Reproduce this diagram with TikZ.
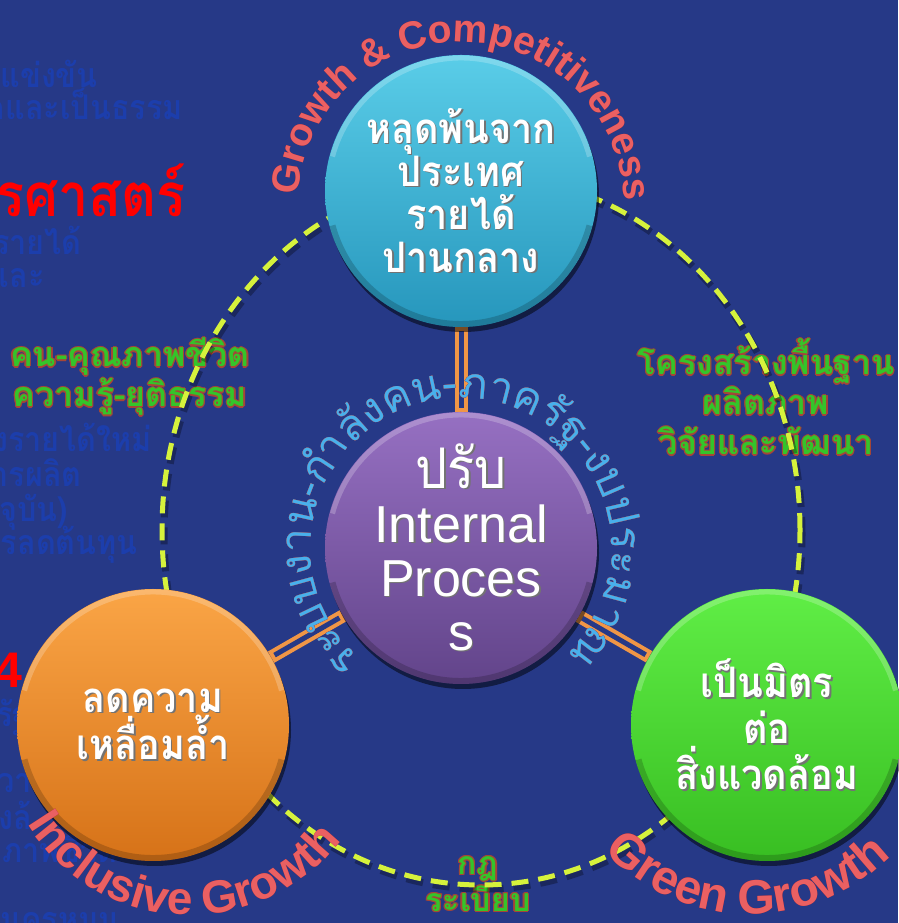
\documentclass[tikz,border=0pt]{standalone}
\usepackage{fontspec}
\usetikzlibrary{shadows,decorations.text,calc}
\newfontfamily\thaifont[Script=Thai]{Loma}
\newfontfamily\thainarrow[Script=Thai,FakeStretch=0.9]{Loma}
\newfontfamily\latinfont{Liberation Sans}
\definecolor{bgblue}{RGB}{38,57,135}
\definecolor{dimblue}{RGB}{28,62,172}
\definecolor{hotred}{RGB}{255,0,0}
\definecolor{dashcol}{RGB}{214,242,60}
\definecolor{connorange}{RGB}{240,150,70}
\definecolor{lblgreen}{RGB}{52,196,42}
\definecolor{lbledge}{RGB}{165,70,55}
\definecolor{curvered}{RGB}{234,96,98}
\definecolor{curvedark}{RGB}{160,28,40}
\definecolor{thaiblue}{RGB}{72,176,236}
\definecolor{thaiedge}{RGB}{150,70,90}
\definecolor{cyanT}{RGB}{90,205,232}
\definecolor{cyanM}{RGB}{54,180,214}
\definecolor{cyanB}{RGB}{38,150,188}
\definecolor{purT}{RGB}{150,112,194}
\definecolor{purM}{RGB}{126,88,170}
\definecolor{purB}{RGB}{98,68,138}
\definecolor{oraT}{RGB}{250,165,70}
\definecolor{oraM}{RGB}{239,138,38}
\definecolor{oraB}{RGB}{214,114,24}
\definecolor{grnT}{RGB}{96,238,70}
\definecolor{grnM}{RGB}{72,216,48}
\definecolor{grnB}{RGB}{56,190,34}
\pgfdeclarelayer{back}
\pgfdeclarelayer{mid}
\pgfsetlayers{back,mid,main}
\newcommand\shad[1]{\leavevmode\setbox0=\hbox{#1}\rlap{\color{black!55}\kern1.6pt\lower1.6pt\copy0}\box0}
\newcommand\outl[1]{\leavevmode\setbox0=\hbox{#1}%
\rlap{\color{lbledge}\kern-1.2pt\copy0}%
\rlap{\color{lbledge}\kern1.2pt\copy0}%
\rlap{\color{lbledge}\raise1.2pt\copy0}%
\rlap{\color{lbledge}\lower1.2pt\copy0}%
\rlap{\color{lbledge}\kern-.85pt\raise.85pt\copy0}%
\rlap{\color{lbledge}\kern.85pt\raise.85pt\copy0}%
\rlap{\color{lbledge}\kern-.85pt\lower.85pt\copy0}%
\rlap{\color{lbledge}\kern.85pt\lower.85pt\copy0}%
\box0}
\newcommand\arctext[6]{%
\path[shift={#5},decorate,decoration={text along path,text align=center,text={#6}}]
 ($(#1)+(#3:#2)$) arc[start angle=#3,end angle=#4,radius=#2];}
\newcommand\redA{\latinfont\bfseries\fontsize{39}{39}\selectfont}
\newcommand\redB{\latinfont\bfseries\fontsize{46}{46}\selectfont}
\newcommand\redC{\latinfont\bfseries\fontsize{48}{48}\selectfont}
\newcommand\thaiC{\thaifont\fontsize{43}{43}\selectfont}
\begin{document}
\begin{tikzpicture}[x=1pt,y=1pt,
  ball/.style={circle,minimum size=272pt,inner sep=0pt,align=center,text=white,
    font=\thainarrow\bfseries\fontsize{42}{43}\selectfont,
    drop shadow={shadow xshift=2pt,shadow yshift=-5pt,opacity=.5,fill=black},
    path picture={
      \draw[white,opacity=.22,line width=5pt] ($(path picture bounding box.center)+(15:133)$) arc[start angle=15,end angle=165,radius=133];
      \draw[black,opacity=.18,line width=6pt] ($(path picture bounding box.center)+(195:133)$) arc[start angle=195,end angle=345,radius=133];}},
  cyanball/.style={ball,top color=cyanT,middle color=cyanM,bottom color=cyanB},
  purball/.style={ball,top color=purT,middle color=purM,bottom color=purB,
    font=\latinfont\fontsize{52}{54}\selectfont},
  oraball/.style={ball,top color=oraT,middle color=oraM,bottom color=oraB},
  grnball/.style={ball,top color=grnT,middle color=grnM,bottom color=grnB,
    font=\thainarrow\bfseries\fontsize{42}{46}\selectfont},
  dimtext/.style={font=\thainarrow\bfseries\fontsize{34}{34}\selectfont,text=dimblue,inner sep=0pt,anchor=base east},
  dimleft/.style={dimtext,anchor=base west},
  lbl/.style={font=\thaifont\bfseries\fontsize{34}{40}\selectfont,text=lblgreen,align=center,inner sep=0pt},
  dashring/.style={draw=dashcol,line width=5pt,dash pattern=on 17pt off 10pt},
  dashshade/.style={draw=black,opacity=.3,line width=7pt,dash pattern=on 17pt off 10pt},
  connout/.style={draw=connorange,line width=13pt},
  connin/.style={draw=bgblue,line width=5pt,shorten <=4pt,shorten >=4pt}]
\useasboundingbox (0,0) rectangle (898,923);
% main circles
\node[cyanball] (T) at (461,732) {\shad{หลุดพ้นจาก}\\\shad{ประเทศ}\\\shad{รายได้}\\\shad{ปานกลาง}};
\node[purball] (C) at (461,375) {\shad{\thainarrow\fontsize{56}{54}\selectfont ปรับ}\\\shad{Internal}\\\shad{Proces}\\\shad{s}};
\node[oraball] (L) at (153,198) {\shad{ลดความ}\\\shad{เหลื่อมล้ำ}};
\node[grnball] (R) at (767,198) {\shad{เป็นมิตร}\\\shad{ต่อ}\\\shad{สิ่งแวดล้อม}};
\begin{pgfonlayer}{back}
\fill[bgblue] (0,0) rectangle (898,923);
% faint background texts
\node[dimtext] (d1) at (98,835) {รแข่งขัน};
\node[dimtext] (d2) at (183,803) {คและเป็นธรรม};
\node[dimtext,text=hotred,font=\thainarrow\bfseries\fontsize{60}{60}\selectfont] (d3) at (186,706) {รศาสตร์};
\node[dimtext] (d4) at (82,668) {รายได้};
\node[dimtext] (d5) at (45,635) {และ};
\node[dimtext] (d6) at (152,471) {งรายได้ใหม่};
\node[dimtext] (d7) at (82,436) {ารผลิต};
\node[dimtext] (d8) at (68,401) {จุบัน)};
\node[dimtext] (d9) at (138,368) {ารลดต้นทุน};
\node[dimtext,text=hotred,font=\latinfont\bfseries\fontsize{50}{50}\selectfont] (d10) at (23,235) {4};
\node[dimleft] (d11) at (-4,196) {รัฐ};
\node[dimleft] (d12) at (-3,130) {วาม};
\node[dimleft] (d13) at (-2,93) {งล้};
\node[dimleft] (d14) at (2,60) {ภาพชีวิต};
\node[dimleft] (d15) at (0,-9) {นครหมน};
% green labels
\node[lbl] (lb1) at (130,546) {\outl{คน-คุณภาพชีวิต}\\\outl{ความรู้-ยุติธรรม}};
\node[lbl] (lb2) at (766,526) {\outl{โครงสร้างพื้นฐาน}\\\outl{ผลิตภาพ}\\\outl{วิจัยและพัฒนา}};
\node[lbl,font=\thaifont\bfseries\fontsize{32}{37}\selectfont] (lb3) at (478,39) {\outl{กฎ}\\\outl{ระเบียบ}};
% dashed ring
\coordinate (E) at (481,393);
\draw[dashshade] ($(E)+(2,-4)$) ellipse[x radius=319,y radius=355];
\draw[dashring] (E) ellipse[x radius=319,y radius=355];
\end{pgfonlayer}
\begin{pgfonlayer}{mid}
\draw[connout] (C) -- (T);
\draw[connin] (C) -- (T);
\draw[connout] (C) -- (L);
\draw[connin] (C) -- (L);
\draw[connout] (C) -- (R);
\draw[connin] (C) -- (R);
\end{pgfonlayer}
% curved texts
\coordinate (gcC) at ($(T)+(0,-14)$);
\coordinate (incC) at ($(L)+(37,0)$);
\coordinate (grnC) at ($(R)+(-17,10)$);
\arctext{gcC}{163}{189}{-11}{(1.4,-2)}{|\redA\color{curvedark}|Growth {\&} Competitiveness}
\arctext{gcC}{163}{189}{-11}{(0,0)}{|\redA\color{curvered}|Growth {\&} Competitiveness}
\arctext{incC}{190}{172}{362}{(1.4,-2)}{|\redB\color{curvedark}|Inclusive Growth}
\arctext{incC}{190}{172}{362}{(0,0)}{|\redB\color{curvered}|Inclusive Growth}
\arctext{grnC}{199}{179}{359}{(1.4,-2)}{|\redC\color{curvedark}|Green Growth}
\arctext{grnC}{199}{179}{359}{(0,0)}{|\redC\color{curvered}|Green Growth}
\arctext{C}{150}{251.7}{-68.3}{(-0.9,0)}{|\thaiC\color{thaiedge}|ระบบงาน-{กำ}{ลั}งคน-ภาค{รั}ฐ-งบประมาณ}
\arctext{C}{150}{251.7}{-68.3}{(0.9,0)}{|\thaiC\color{thaiedge}|ระบบงาน-{กำ}{ลั}งคน-ภาค{รั}ฐ-งบประมาณ}
\arctext{C}{150}{251.7}{-68.3}{(0,0.9)}{|\thaiC\color{thaiedge}|ระบบงาน-{กำ}{ลั}งคน-ภาค{รั}ฐ-งบประมาณ}
\arctext{C}{150}{251.7}{-68.3}{(0,-0.9)}{|\thaiC\color{thaiedge}|ระบบงาน-{กำ}{ลั}งคน-ภาค{รั}ฐ-งบประมาณ}
\arctext{C}{150}{251.7}{-68.3}{(0,0)}{|\thaiC\color{thaiblue}|ระบบงาน-{กำ}{ลั}งคน-ภาค{รั}ฐ-งบประมาณ}
\end{tikzpicture}
\end{document}
